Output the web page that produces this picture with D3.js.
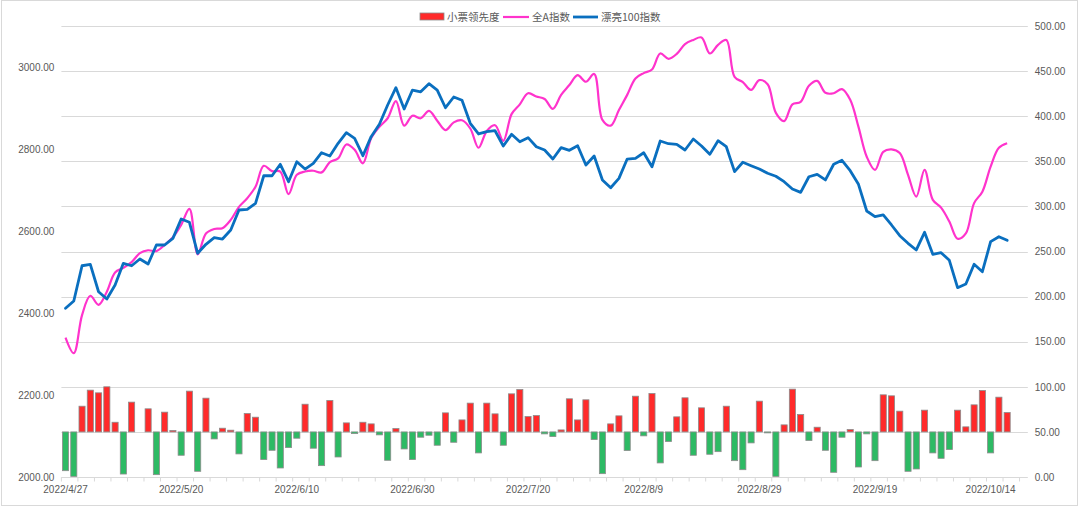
<!DOCTYPE html>
<html><head><meta charset="utf-8">
<script src="https://cdn.jsdelivr.net/npm/d3@7"></script>
<style>html,body{margin:0;padding:0;background:#fff;} svg{display:block;}</style>
</head><body>
<svg id="c" width="1080" height="507"></svg>
<script>
// ---------- DATA ----------
const dates = [
 "2022/4/27","2022/4/28","2022/4/29","2022/5/5","2022/5/6",
 "2022/5/9","2022/5/10","2022/5/11","2022/5/12","2022/5/13",
 "2022/5/16","2022/5/17","2022/5/18","2022/5/19","2022/5/20",
 "2022/5/23","2022/5/24","2022/5/25","2022/5/26","2022/5/27",
 "2022/5/30","2022/5/31","2022/6/1","2022/6/2",
 "2022/6/6","2022/6/7","2022/6/8","2022/6/9","2022/6/10",
 "2022/6/13","2022/6/14","2022/6/15","2022/6/16","2022/6/17",
 "2022/6/20","2022/6/21","2022/6/22","2022/6/23","2022/6/24",
 "2022/6/27","2022/6/28","2022/6/29","2022/6/30","2022/7/1",
 "2022/7/4","2022/7/5","2022/7/6","2022/7/7","2022/7/8",
 "2022/7/11","2022/7/12","2022/7/13","2022/7/14","2022/7/15",
 "2022/7/18","2022/7/19","2022/7/20","2022/7/21","2022/7/22",
 "2022/7/25","2022/7/26","2022/7/27","2022/7/28","2022/7/29",
 "2022/8/1","2022/8/2","2022/8/3","2022/8/4","2022/8/5",
 "2022/8/8","2022/8/9","2022/8/10","2022/8/11","2022/8/12",
 "2022/8/15","2022/8/16","2022/8/17","2022/8/18","2022/8/19",
 "2022/8/22","2022/8/23","2022/8/24","2022/8/25","2022/8/26",
 "2022/8/29","2022/8/30","2022/8/31","2022/9/1","2022/9/2",
 "2022/9/5","2022/9/6","2022/9/7","2022/9/8","2022/9/9",
 "2022/9/13","2022/9/14","2022/9/15","2022/9/16",
 "2022/9/19","2022/9/20","2022/9/21","2022/9/22","2022/9/23",
 "2022/9/26","2022/9/27","2022/9/28","2022/9/29","2022/9/30",
 "2022/10/10","2022/10/11","2022/10/12","2022/10/13","2022/10/14",
 "2022/10/17","2022/10/18","2022/10/19","2022/10/20"
];
const xTickLabels = ["2022/4/27","2022/5/20","2022/6/10","2022/6/30","2022/7/20","2022/8/9","2022/8/29","2022/9/19","2022/10/14"];
const leftTicks = [2000,2200,2400,2600,2800,3000];
const rightTicks = [0,50,100,150,200,250,300,350,400,450,500];

// 小票领先度 (right axis, baseline 50)
const smallCapLead = [
 7.0, 0.7, 78.5, 96.3, 93.3, 100, 60.7, 3.3, 83.0, 50,
 75.6, 2.6, 71.9, 51.5, 24.1, 95.2, 6.3, 87.4, 42.2, 54.1,
 51.9, 25.6, 70.4, 66.3, 19.3, 29.6, 10.0, 32.6, 43.0, 80.7,
 31.9, 12.6, 84.8, 22.2, 60.0, 48.1, 60.7, 58.9, 46.7, 18.5,
 53.7, 31.1, 19.3, 44.1, 46.3, 35.2, 71.1, 38.5, 63.3, 81.9,
 26.7, 81.9, 70.0, 35.2, 92.2, 97.0, 67.0, 68.1, 47.8, 44.8,
 52.2, 86.7, 63.3, 85.6, 41.5, 3.7, 58.9, 67.8, 29.3, 89.6,
 45.6, 92.6, 15.6, 39.3, 66.7, 87.8, 24.1, 76.7, 25.2, 28.1,
 78.5, 18.1, 8.1, 37.8, 84.1, 48.9, 0.7, 57.8, 97.4, 69.3,
 40.4, 55.2, 29.6, 5.2, 44.1, 52.6, 11.1, 47.8, 18.1, 91.1,
 90.0, 73.0, 6.3, 8.9, 74.1, 26.7, 20.7, 30.4, 74.1, 55.6,
 80.0, 95.9, 26.7, 88.5, 71.5
];
// 全A指数 (left axis)
const allA = [
 2340, 2302, 2395, 2442, 2420, 2452, 2499, 2510, 2524, 2546,
 2553, 2551, 2566, 2585, 2615, 2654, 2543, 2594, 2605, 2607,
 2627, 2659, 2680, 2708, 2759, 2746, 2745, 2690, 2737, 2745,
 2747, 2743, 2768, 2777, 2811, 2798, 2765, 2826, 2854, 2875,
 2917, 2857, 2881, 2875, 2893, 2869, 2846, 2865, 2870, 2850,
 2803, 2844, 2858, 2820, 2885, 2909, 2936, 2928, 2922, 2898,
 2932, 2956, 2980, 2964, 2983, 2871, 2857, 2895, 2932, 2972,
 2985, 2994, 3033, 3020, 3032, 3056, 3066, 3072, 3033, 3054,
 3066, 2976, 2963, 2944, 2968, 2958, 2888, 2868, 2909, 2915,
 2954, 2966, 2937, 2936, 2946, 2920, 2854, 2781, 2749, 2793,
 2799, 2790, 2737, 2684, 2749, 2676, 2657, 2623, 2581, 2594,
 2668, 2696, 2757, 2803, 2814
];
// 漂亮100指数 (right axis)
const pretty100 = [
 187.0, 195.1, 234.2, 235.8, 205.4, 197.3, 212.9, 236.9, 234.2, 241.7,
 236.1, 257.2, 257.2, 264.6, 286.0, 282.4, 248.0, 258.0, 265.3, 263.8,
 273.8, 296.0, 296.8, 303.4, 334.0, 334.0, 346.7, 327.4, 349.5, 341.4,
 347.8, 359.5, 355.9, 369.9, 381.7, 375.5, 356.2, 377.3, 391.0, 412.4,
 431.6, 408.0, 429.0, 427.1, 436.0, 429.0, 409.4, 421.3, 417.6, 392.1,
 380.3, 382.8, 383.9, 367.0, 379.9, 371.7, 376.2, 366.2, 362.5, 352.5,
 365.1, 362.2, 367.3, 345.9, 355.9, 329.3, 320.7, 331.1, 352.5, 353.3,
 359.5, 344.0, 372.5, 369.5, 368.8, 362.5, 374.7, 367.0, 357.7, 372.8,
 366.2, 338.5, 348.9, 345.1, 341.4, 336.7, 333.4, 327.4, 319.3, 315.6,
 332.9, 335.6, 329.3, 346.7, 351.1, 339.6, 324.5, 294.9, 288.6, 290.5,
 279.4, 267.5, 259.1, 251.7, 271.3, 246.9, 248.7, 240.2, 209.9, 214.0,
 235.8, 227.6, 260.9, 266.4, 262.4
];

// ---------- LAYOUT ----------
const L = 61.4, R = 1027.8, T = 26, B = 477;
const svg = d3.select("#c");
const RED = "#FF2A2A", GREEN = "#2DBA64", PINK = "#FF33CC", BLUE = "#0A6FBF";
const TXT = "#595959", GRID = "#D9D9D9";
const numFont = "'Liberation Sans', Arial, sans-serif";
const cjkFont = "'Noto Sans CJK SC', 'Noto Sans', sans-serif";

svg.append("rect").attr("x",1.5).attr("y",0.5).attr("width",1076).attr("height",505)
  .attr("fill","#fff").attr("stroke",GRID).attr("stroke-width",1);

const x = d3.scaleBand().domain(dates).range([L, R]).padding(0);
const bw = x.bandwidth();
const cx = d => x(d) + bw / 2;
const yL = d3.scaleLinear().domain([2000, 3100]).range([B, T]);
const yR = d3.scaleLinear().domain([0, 500]).range([B, T]);

// gridlines
svg.append("g").selectAll("line").data(rightTicks).join("line")
  .attr("x1", L).attr("x2", R)
  .attr("y1", d => Math.round(yR(d)) + 0.5).attr("y2", d => Math.round(yR(d)) + 0.5)
  .attr("stroke", GRID).attr("stroke-width", 1);

// category tick marks (every 2 categories)
svg.append("g").selectAll("line").data(dates.filter((d,i) => i % 2 === 0)).join("line")
  .attr("x1", d => x(d)).attr("x2", d => x(d))
  .attr("y1", B).attr("y2", B + 4.5)
  .attr("stroke", GRID).attr("stroke-width", 1);

// bars
const barW = bw * 0.74;
const barData = smallCapLead.map((v, i) => ({ d: dates[i], v }));
svg.append("g").selectAll("rect").data(barData).join("rect")
  .attr("x", d => cx(d.d) - barW / 2)
  .attr("width", barW)
  .attr("y", d => yR(Math.max(d.v, 50)))
  .attr("height", d => Math.abs(yR(d.v) - yR(50)))
  .attr("fill", d => d.v >= 50 ? RED : GREEN)
  .attr("stroke", "#8C8C8C").attr("stroke-width", 0.8);

// lines
const pinkLine = d3.line().x((v, i) => cx(dates[i])).y(v => yL(v)).curve(d3.curveCatmullRom.alpha(0.5));
svg.append("path").datum(allA).attr("d", pinkLine)
  .attr("fill", "none").attr("stroke", PINK).attr("stroke-width", 2.2);

const blueLine = d3.line().x((v, i) => cx(dates[i])).y(v => yR(v));
svg.append("path").datum(pretty100).attr("d", blueLine)
  .attr("fill", "none").attr("stroke", BLUE).attr("stroke-width", 2.8)
  .attr("stroke-linejoin", "round").attr("stroke-linecap", "round");

// axes
function styleAxis(g) {
  g.select(".domain").remove();
  g.selectAll("text").attr("fill", TXT).style("font-family", numFont).style("font-size", "10px");
}
svg.append("g").attr("transform", `translate(${L},0)`)
  .call(d3.axisLeft(yL).tickValues(leftTicks).tickFormat(d3.format(".2f")).tickSize(0).tickPadding(7))
  .call(styleAxis);
svg.append("g").attr("transform", `translate(${R},0)`)
  .call(d3.axisRight(yR).tickValues(rightTicks).tickFormat(d3.format(".2f")).tickSize(0).tickPadding(7))
  .call(styleAxis);
svg.append("g").attr("transform", `translate(0,${B})`)
  .call(d3.axisBottom(x).tickValues(xTickLabels).tickSize(0).tickPadding(9))
  .call(styleAxis);

// legend
const lg = svg.append("g");
lg.append("rect").attr("x", 420).attr("y", 13).attr("width", 24).attr("height", 7)
  .attr("fill", RED).attr("stroke", "#8C8C8C").attr("stroke-width", 0.8);
lg.append("text").attr("x", 447).attr("y", 21).text("小票领先度");
lg.append("line").attr("x1", 503).attr("x2", 529).attr("y1", 17).attr("y2", 17)
  .attr("stroke", PINK).attr("stroke-width", 2.2);
lg.append("text").attr("x", 532).attr("y", 21).text("全A指数");
lg.append("line").attr("x1", 573).attr("x2", 598).attr("y1", 17).attr("y2", 17)
  .attr("stroke", BLUE).attr("stroke-width", 2.8);
lg.append("text").attr("x", 601).attr("y", 21).text("漂亮100指数");
lg.selectAll("text").attr("fill", TXT).style("font-family", cjkFont).style("font-size", "10.5px");
</script>
</body></html>
